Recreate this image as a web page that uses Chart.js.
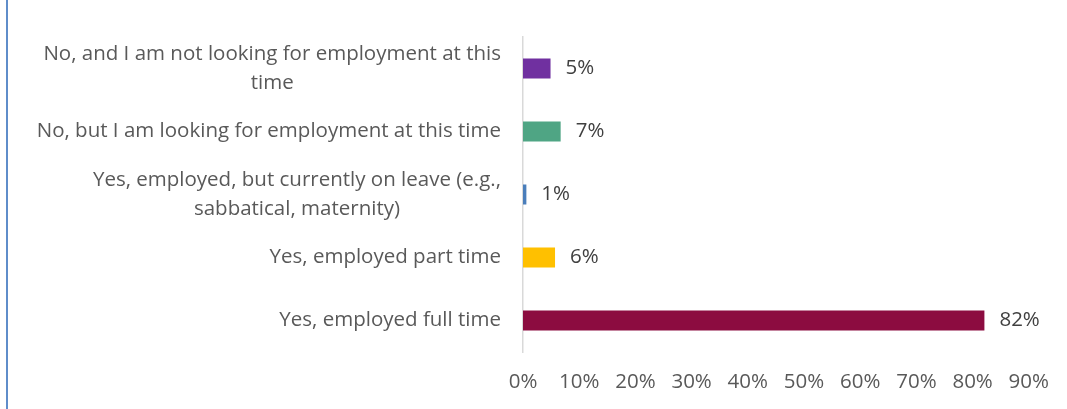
<!DOCTYPE html>
<html>
<head>
<meta charset="utf-8">
<script src="https://cdn.jsdelivr.net/npm/chart.js@4.4.1/dist/chart.umd.min.js"></script>
<style>
  html, body { margin: 0; padding: 0; background: #fff; }
  #wrap { position: relative; width: 1067px; height: 409px; }
  #frame { position: absolute; left: 6px; top: 0; bottom: 0; width: 2px; background: #5f8dca; }
</style>
</head>
<body>
<div id="wrap">
  <div id="frame"></div>
  <canvas id="chart" width="1067" height="409"></canvas>
</div>
<script>
const categories = [
  ["No, and I am not looking for employment at this", "time"],
  "No, but I am looking for employment at this time",
  ["Yes, employed, but currently on leave (e.g.,", "sabbatical, maternity)"],
  "Yes, employed part time",
  "Yes, employed full time",
];
const shares = [4.9, 6.7, 0.6, 5.7, 82.1];
const barColors = ["#7030a0", "#4fa584", "#4a7ebb", "#ffc000", "#8c0c40"];
const tickValues = [0, 10, 20, 30, 40, 50, 60, 70, 80, 90];

const FONT = "Open Sans";
const labelFont = { family: FONT, size: 20.5 };

// category labels: block right-aligned next to the axis, lines centred in the block
const categoryLabels = {
  id: "categoryLabels",
  afterDraw(chart) {
    const ctx = chart.ctx;
    const y = chart.scales.y;
    const right = chart.chartArea.left - 22;
    const lineH = 29;
    ctx.save();
    ctx.font = labelFont.size + "px " + FONT;
    ctx.fillStyle = "#595959";
    ctx.textBaseline = "middle";
    ctx.textAlign = "center";
    categories.forEach((lab, i) => {
      const lines = Array.isArray(lab) ? lab : [lab];
      const w = Math.max(...lines.map((l) => ctx.measureText(l).width));
      const cx = right - w / 2;
      const cy = y.getPixelForValue(i);
      lines.forEach((l, j) => {
        ctx.fillText(l, cx, cy + (j - (lines.length - 1) / 2) * lineH);
      });
    });
    ctx.restore();
  },
};

// value labels at the end of each bar
const valueLabels = {
  id: "valueLabels",
  afterDatasetsDraw(chart) {
    const ctx = chart.ctx;
    const meta = chart.getDatasetMeta(0);
    ctx.save();
    ctx.font = labelFont.size + "px " + FONT;
    ctx.fillStyle = "#404040";
    ctx.textBaseline = "middle";
    ctx.textAlign = "left";
    meta.data.forEach((bar, i) => {
      ctx.fillText(Math.round(shares[i]) + "%", bar.x + 15, bar.y);
    });
    ctx.restore();
  },
};

new Chart(document.getElementById("chart"), {
  type: "bar",
  data: {
    labels: categories,
    datasets: [
      {
        data: shares,
        backgroundColor: barColors,
        borderWidth: 0,
        barPercentage: 0.8,
        categoryPercentage: 0.4,
      },
    ],
  },
  options: {
    indexAxis: "y",
    responsive: false,
    animation: false,
    layout: { padding: { top: 37, right: 34, bottom: 0, left: 0 } },
    plugins: {
      legend: { display: false },
      tooltip: { enabled: false },
    },
    scales: {
      x: {
        min: 0,
        max: 90,
        afterBuildTicks(scale) {
          scale.ticks = tickValues.map((v) => ({ value: v }));
        },
        afterFit(scale) {
          scale.height = 57;
        },
        grid: { display: false, drawTicks: false },
        border: { display: false },
        ticks: {
          padding: 18,
          color: "#595959",
          font: labelFont,
          callback: (v) => v + "%",
        },
      },
      y: {
        afterFit(scale) {
          scale.width = 523;
        },
        grid: { display: false },
        border: { display: true, color: "#d9d9d9", width: 1.5 },
        ticks: { display: false },
      },
    },
  },
  plugins: [categoryLabels, valueLabels],
});
</script>
</body>
</html>
